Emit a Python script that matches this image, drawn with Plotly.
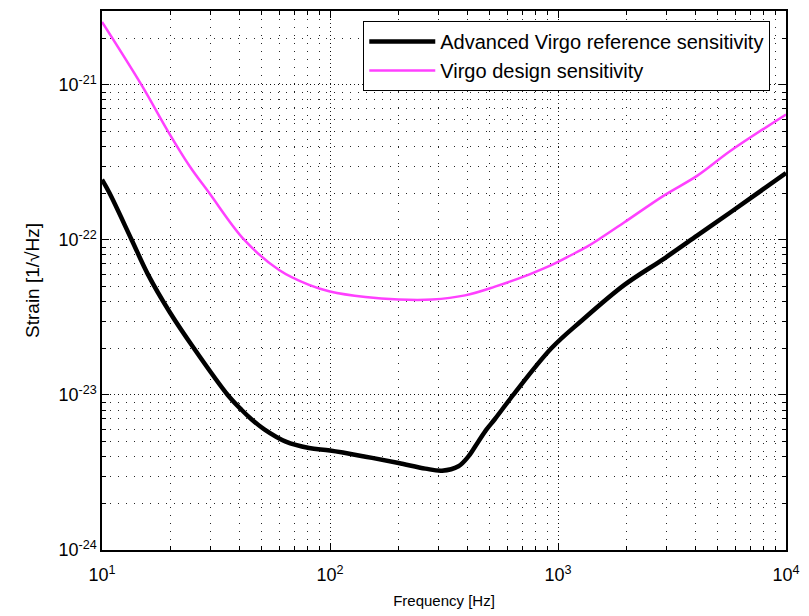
import plotly.graph_objects as go

# Virgo design sensitivity
freq_design = [10, 14.9, 19.5, 24.2, 29.6, 42.1, 59.8, 80.9, 100, 143, 200, 280, 391, 529,
               750, 960, 1144, 1330, 1496, 1955, 2923, 4087, 5715, 10000]
strain_design = [2.55e-21, 1.0e-21, 5.0e-22, 3.0e-22, 2.0e-22, 1.0e-22, 6.4e-23, 5.13e-23,
                 4.65e-23, 4.28e-23, 4.13e-23, 4.13e-23, 4.39e-23, 5.0e-23,
                 6.0e-23, 7.0e-23, 8.0e-23, 9.0e-23, 1.0e-22, 1.30e-22, 1.94e-22, 2.60e-22,
                 3.76e-22, 6.45e-22]

# Advanced Virgo reference sensitivity
freq_adv = [10, 10.8, 13.5, 15.9, 19.8, 25.3, 35.6, 41.0, 45.1, 51.5, 64, 80.9, 100, 143,
            200, 262, 310, 366, 404, 447, 486, 529, 636, 935, 1265, 1955, 2923, 4087, 5715, 10000]
strain_adv = [2.45e-22, 2.0e-22, 1.0e-22, 6.0e-23, 3.43e-23, 2.0e-23, 1.0e-23, 8.0e-24,
              7.0e-24, 6.0e-24, 5.0e-24, 4.55e-24, 4.38e-24, 4.0e-24, 3.64e-24, 3.35e-24,
              3.25e-24, 3.47e-24, 4.0e-24, 5.0e-24, 6.0e-24, 7.0e-24, 1.0e-23, 2.0e-23, 3.0e-23,
              5.13e-23, 7.59e-23, 1.07e-22, 1.51e-22, 2.70e-22]

x_tickvals = [10, 100, 1000, 10000]
x_ticktext = ["10<sup>1</sup>", "10<sup>2</sup>", "10<sup>3</sup>", "10<sup>4</sup>"]
y_tickvals = [1e-24, 1e-23, 1e-22, 1e-21]
y_ticktext = ["10<sup>-24</sup>", "10<sup>-23</sup>", "10<sup>-22</sup>", "10<sup>-21</sup>"]

FONT = "Liberation Sans, Arial, sans-serif"

fig = go.Figure()
fig.add_trace(go.Scatter(x=freq_adv, y=strain_adv, mode="lines",
                         name="Advanced Virgo reference sensitivity",
                         line=dict(color="black", width=4.5, shape="spline", smoothing=1.0)))
fig.add_trace(go.Scatter(x=freq_design, y=strain_design, mode="lines",
                         name="Virgo design sensitivity",
                         line=dict(color="#ff40ff", width=2.5, shape="spline", smoothing=1.0)))

grid_major = dict(showgrid=True, gridcolor="rgba(0,0,0,0.85)", gridwidth=1, griddash="1px,3px")
minor = dict(ticks="inside", ticklen=4, tickcolor="black", showgrid=True,
             gridcolor="rgba(0,0,0,0.85)", gridwidth=1, griddash="1px,7px", dtick="D1")

fig.update_xaxes(type="log", range=[1, 4], tickmode="array", tickvals=x_tickvals, ticktext=x_ticktext,
                 ticks="inside", ticklen=7, tickcolor="black", showline=True, linecolor="black",
                 linewidth=1.5, mirror="allticks", zeroline=False, minor=minor,
                 ticklabelstandoff=8,
                 tickfont=dict(family=FONT, size=18, color="black"),
                 title=dict(text="Frequency [Hz]", font=dict(family=FONT, size=15, color="black"), standoff=11),
                 **grid_major)
fig.update_yaxes(type="log", range=[-24, -20.523], tickmode="array", tickvals=y_tickvals, ticktext=y_ticktext,
                 ticks="inside", ticklen=7, tickcolor="black", showline=True, linecolor="black",
                 linewidth=1.5, mirror="allticks", zeroline=False, minor=minor,
                 tickfont=dict(family=FONT, size=18, color="black"),
                 title=dict(text="Strain [1/\u221aHz]", font=dict(family=FONT, size=19, color="black"), standoff=14),
                 **grid_major)

fig.update_layout(
    width=809, height=616,
    margin=dict(l=102, r=20, t=9, b=66),
    paper_bgcolor="white", plot_bgcolor="white",
    showlegend=True,
    legend=dict(x=0.977, y=0.9815, xanchor="right", yanchor="top",
                bgcolor="white", bordercolor="black", borderwidth=1,
                font=dict(family=FONT, size=20, color="black"),
                itemwidth=66, tracegroupgap=0),
)

fig.write_html("out.html")
